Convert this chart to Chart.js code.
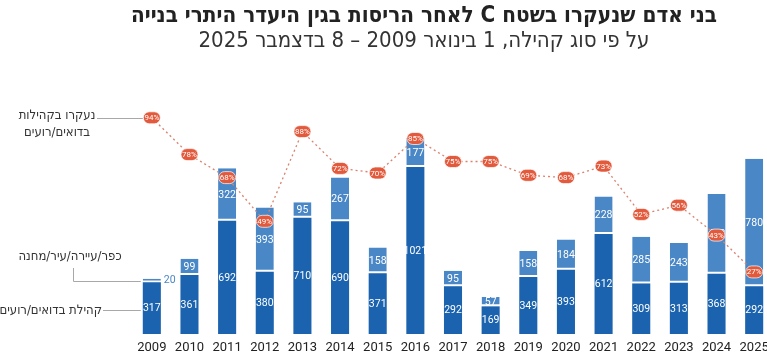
<!DOCTYPE html>
<html lang="he">
<head>
<meta charset="utf-8">
<script src="https://cdn.jsdelivr.net/npm/chart.js@4"></script>
<style>
  html, body { margin: 0; padding: 0; background: #fff; overflow: hidden; width: 767px; height: 354px; }
  #wrap { position: relative; width: 775px; height: 354px; }
  .t { position: absolute; left: 0; width: 848px; text-align: center; color: #222; white-space: nowrap; }
  #title { top: 1px; font: bold 22.3px "DejaVu Sans Condensed", "Liberation Sans", sans-serif; }
  #sub { top: 27px; font: 22px "DejaVu Sans Condensed", "Liberation Sans", sans-serif; color: #333; }
  canvas { position: absolute; left: 0; top: 0; }
</style>
</head>
<body>
<div id="wrap">
  <canvas id="chart" width="775" height="354"></canvas>
  <div class="t" id="title" dir="rtl">בני אדם שנעקרו בשטח C לאחר הריסות בגין היעדר היתרי בנייה</div>
  <div class="t" id="sub" dir="rtl">על פי סוג קהילה, 1 בינואר 2009 – 8 בדצמבר 2025</div>
</div>
<script>
const years = ["2009", "2010", "2011", "2012", "2013", "2014", "2015", "2016", "2017",
  "2018", "2019", "2020", "2021", "2022", "2023", "2024", "2025"];

// Bedouin / herding communities (dark segment)
const bedouin = [317, 361, 692, 380, 710, 690, 371, 1021, 292, 169, 349, 393, 612, 309, 313, 368, 292];
// village / town / city / camp (light segment)
const village = [20, 99, 322, 393, 95, 267, 158, 177, 95, 57, 158, 184, 228, 285, 243, 488, 780];
// share displaced in Bedouin / herding communities (%)
const share = [94, 78, 68, 49, 88, 72, 70, 85, 75, 75, 69, 68, 73, 52, 56, 43, 27];

const DARK = "#1b63ae";
const LIGHT = "#4a87c6";
const PILL = "#e2593c";
const NUM_FONT = "10.5px 'Liberation Sans Narrow', Roboto, sans-serif";

// white numbers inside the bar segments
const barLabels = {
  id: "barLabels",
  afterDatasetsDraw(chart) {
    const ctx = chart.ctx;
    ctx.save();
    ctx.font = NUM_FONT;
    ctx.textBaseline = "middle";
    [0, 1].forEach(di => {
      const meta = chart.getDatasetMeta(di);
      const values = chart.data.datasets[di].data;
      meta.data.forEach((bar, i) => {
        const h = Math.abs(bar.base - bar.y);
        const mid = (bar.y + bar.base) / 2;
        if (h < 6) {
          ctx.fillStyle = LIGHT;
          ctx.textAlign = "left";
          ctx.fillText(values[i], bar.x + bar.width / 2 + 3, mid);
        } else {
          ctx.fillStyle = "#fff";
          ctx.textAlign = "center";
          ctx.fillText(values[i], bar.x, mid + 0.5);
        }
      });
    });
    ctx.restore();
  }
};

// percentage pills on the dotted line
const pills = {
  id: "pills",
  afterDatasetsDraw(chart) {
    const ctx = chart.ctx;
    const meta = chart.getDatasetMeta(2);
    ctx.save();
    ctx.font = "8px Roboto, sans-serif";
    ctx.textAlign = "center";
    ctx.textBaseline = "middle";
    meta.data.forEach((pt, i) => {
      const w = 17, h = 12;
      ctx.beginPath();
      ctx.roundRect(pt.x - w / 2, pt.y - h / 2, w, h, 6);
      ctx.fillStyle = PILL;
      ctx.fill();
      ctx.lineWidth = 1;
      ctx.strokeStyle = "rgba(255,255,255,0.7)";
      ctx.stroke();
      ctx.fillStyle = "#fff";
      ctx.fillText(share[i] + "%", pt.x, pt.y + 0.5);
    });
    ctx.restore();
  }
};

// legend-like callouts on the left
const callouts = {
  id: "callouts",
  afterDraw(chart) {
    const ctx = chart.ctx;
    const p0 = chart.getDatasetMeta(2).data[0];
    const b0 = chart.getDatasetMeta(0).data[0];
    const t0 = chart.getDatasetMeta(1).data[0];
    const edge = b0.x - b0.width / 2 - 2;
    ctx.save();
    ctx.strokeStyle = "#a8a8a8";
    ctx.lineWidth = 1;
    ctx.beginPath();
    ctx.moveTo(97, Math.round(p0.y) + 0.5);
    ctx.lineTo(p0.x - 9, Math.round(p0.y) + 0.5);
    const ty = Math.round((t0.y + t0.base) / 2) + 0.5;
    ctx.moveTo(73.5, 268);
    ctx.lineTo(73.5, ty);
    ctx.lineTo(edge, ty);
    const by = Math.round((b0.y + b0.base) / 2) + 2.5;
    ctx.moveTo(103, by);
    ctx.lineTo(edge, by);
    ctx.stroke();

    ctx.fillStyle = "#333";
    ctx.font = "13px 'DejaVu Sans Condensed', 'Liberation Sans', sans-serif";
    ctx.direction = "rtl";
    ctx.textBaseline = "middle";
    ctx.textAlign = "center";
    ctx.fillText("נעקרו בקהילות", 57, 116);
    ctx.fillText("בדואים/רועים", 57, 133);
    ctx.fillText("כפר/עיירה/עיר/מחנה", 70, 257);
    ctx.textAlign = "right";
    ctx.fillText("קהילת בדואים/רועים", 102, by);
    ctx.restore();
  }
};

const sep = { top: 0, bottom: 2, left: 0, right: 0 };

new Chart(document.getElementById("chart"), {
  data: {
    labels: years,
    datasets: [
      {
        type: "bar",
        data: bedouin,
        backgroundColor: DARK,
        yAxisID: "y",
        order: 2
      },
      {
        type: "bar",
        data: village,
        backgroundColor: LIGHT,
        borderColor: "rgba(255,255,255,0.9)",
        borderWidth: sep,
        borderSkipped: false,
        yAxisID: "y",
        order: 2
      },
      {
        type: "line",
        data: share,
        yAxisID: "yp",
        borderColor: "#d9826e",
        borderWidth: 1.3,
        borderDash: [2, 3],
        pointRadius: 0,
        fill: false,
        order: 1
      }
    ]
  },
  options: {
    responsive: false,
    animation: false,
    devicePixelRatio: 1,
    barPercentage: 0.6,
    categoryPercentage: 0.8,
    layout: { padding: { left: 133, right: 2, top: 104, bottom: 0 } },
    plugins: {
      legend: { display: false },
      tooltip: { enabled: false },
      title: { display: false }
    },
    scales: {
      x: {
        stacked: true,
        grid: { display: false, drawTicks: false },
        border: { display: false },
        ticks: {
          color: "#222",
          padding: 6,
          font: { family: "'Liberation Sans Narrow', Roboto, sans-serif", size: 13 }
        },
        afterFit(scale) { scale.height = 20; }
      },
      y: { stacked: true, display: false, min: 0, max: 1406 },
      yp: { display: false, min: 0, max: 100 }
    }
  },
  plugins: [barLabels, pills, callouts]
});
</script>
</body>
</html>
